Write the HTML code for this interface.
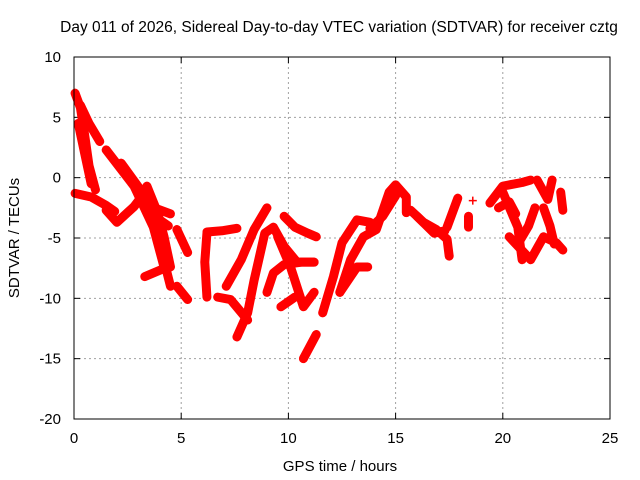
<!DOCTYPE html>
<html><head><meta charset="utf-8"><style>
body{margin:0;background:#fff}
svg{display:block;font-family:"Liberation Sans",sans-serif}
</style></head><body>
<svg id="chart" width="640" height="480" viewBox="0 0 640 480">
<text x="339" y="32" text-anchor="middle" font-size="15.5">Day 011 of 2026, Sidereal Day-to-day VTEC variation (SDTVAR) for receiver cztg</text>
<text x="340" y="471" text-anchor="middle" font-size="15">GPS time / hours</text>
<text transform="translate(19,238) rotate(-90)" text-anchor="middle" font-size="15">SDTVAR / TECUs</text>
<g id="grid"></g>
<g id="ticks"></g>
<g id="marks"></g>
<rect x="74" y="57" width="536" height="362" fill="none" stroke="#000" stroke-width="1"/>
</svg>
<script>
const xTicks=[0,5,10,15,20,25];
const yTicks=[10,5,0,-5,-10,-15,-20];
const tracks=[
[[0.05,7],[0.3,5.8],[0.5,3.5],[0.7,1],[1.0,-1]],
[[0.3,6],[0.7,4.5],[1.2,3]],
[[0.2,4.5],[0.5,2],[0.8,-0.5]],
[[0.05,-1.3],[0.8,-1.6],[1.5,-2.3],[1.9,-2.8]],
[[2.2,1.2],[3.1,-1],[3.6,-3.5],[4.1,-6.2],[4.5,-9]],
[[1.5,2.3],[2.8,-0.7],[3.7,-4.1],[4.2,-7.4]],
[[1.5,-2.7],[2.0,-3.7],[2.8,-2.4],[3.4,-1]],
[[3.4,-0.7],[3.9,-2.9],[4.2,-4.9],[4.5,-7.4]],
[[3.3,-2],[3.9,-2.6],[4.5,-3]],
[[3.6,-2.2],[4.0,-3.5],[4.4,-4]],
[[3.3,-8.2],[4.1,-7.6]],
[[4.8,-4.3],[5.3,-6.2]],
[[4.8,-9],[5.3,-10.1]],
[[6.2,-4.5],[6.9,-4.4],[7.6,-4.2]],
[[6.2,-4.6],[6.1,-7],[6.2,-9.9]],
[[7.6,-13.2],[8.1,-11.2],[8.4,-8.5],[8.9,-4.6],[9.3,-4.1],[9.8,-5.7],[10.4,-7],[11.2,-7]],
[[7.1,-9],[7.8,-6.8],[8.4,-4.3],[9.0,-2.5]],
[[6.7,-9.9],[7.3,-10.1],[8.1,-11.8]],
[[9.0,-9.5],[9.3,-7.9],[9.8,-7.2],[10.6,-7.0],[11.2,-7.0]],
[[9.5,-4.9],[10.1,-7.4],[10.7,-10.7],[11.2,-9.5]],
[[9.65,-10.7],[10.3,-9.9]],
[[9.8,-3.2],[10.3,-4.1],[10.9,-4.6],[11.3,-4.9]],
[[10.7,-15],[11.3,-13]],
[[11.6,-11.2],[12.1,-8.2],[12.5,-5.4],[13.2,-3.5],[13.8,-3.7]],
[[12.4,-9.5],[12.9,-6.8],[13.5,-4.9],[14.1,-4.3],[14.7,-1.2],[15.0,-0.6],[15.5,-1.6],[15.5,-2.9]],
[[12.4,-9.5],[13.2,-7.4],[13.7,-7.4]],
[[13.8,-4.2],[14.4,-3.2],[15.0,-1.5]],
[[15.7,-2.7],[16.3,-3.7],[16.9,-4.3],[17.4,-5.1],[17.5,-6.5]],
[[16.0,-3.2],[16.8,-4.6],[17.3,-4.4]],
[[17.4,-4.1],[17.9,-1.7]],
[[18.4,-3.2],[18.4,-4.1]],
[[18.6,-1.9]],
[[19.4,-2.1],[20.0,-0.7],[20.9,-0.4],[21.3,-0.2]],
[[20.0,-1.2],[20.7,-4.1],[20.9,-6.8]],
[[19.8,-2.5],[20.3,-2],[20.6,-3]],
[[20.3,-4.9],[21.3,-6.8],[21.9,-4.9],[22.5,-5.4],[22.8,-6]],
[[20.7,-5.5],[21.2,-4],[21.5,-2.5]],
[[21.6,-0.2],[22.1,-1.8],[22.3,-0.2]],
[[21.9,-2.5],[22.2,-4],[22.4,-5.5]],
[[22.7,-1.2],[22.8,-2.7]]
];
const X0=74,X1=610,Y0=419,Y1=57;
const xs=v=>X0+(v-0)/25*(X1-X0);
const ys=v=>Y0-(v+20)/30*(Y0-Y1);
const NS="http://www.w3.org/2000/svg";
const grid=document.getElementById('grid'),ticks=document.getElementById('ticks'),marks=document.getElementById('marks');
function mk(tag,attrs,parent){const e=document.createElementNS(NS,tag);for(const k in attrs)e.setAttribute(k,attrs[k]);parent.appendChild(e);return e;}
xTicks.forEach(t=>{const x=xs(t);
 if(t>0&&t<25){const g=mk('line',{x1:x,x2:x,y1:Y1,y2:Y0,stroke:'#a0a0a0','stroke-dasharray':'2,3'},grid);
 
 }
 mk('line',{x1:x,x2:x,y1:Y0,y2:Y0-6,stroke:'#000'},ticks);
 mk('line',{x1:x,x2:x,y1:Y1,y2:Y1+6,stroke:'#000'},ticks);
 const l=mk('text',{x:x,y:443,'text-anchor':'middle','font-size':15},ticks);l.textContent=t;
 
 
});
yTicks.forEach(t=>{const y=ys(t);
 if(t>-20&&t<10){const g=mk('line',{x1:X0,x2:X1,y1:y,y2:y,stroke:'#a0a0a0','stroke-dasharray':'2,3'},grid);
 
 }
 mk('line',{x1:X0,x2:X0+6,y1:y,y2:y,stroke:'#000'},ticks);
 mk('line',{x1:X1,x2:X1-6,y1:y,y2:y,stroke:'#000'},ticks);
 const l=mk('text',{x:61,y:y+5,'text-anchor':'end','font-size':15},ticks);l.textContent=t;
 
 
});
tracks.forEach(tr=>{
 const pts=tr.map(p=>xs(p[0])+','+ys(p[1])).join(' ');
 if(tr.length>1){const pl=mk('polyline',{points:pts,fill:'none',stroke:'#ff0000','stroke-width':9,'stroke-linejoin':'round','stroke-linecap':'round'},marks);
 
 }
 tr.forEach(p=>{const x=xs(p[0]),y=ys(p[1]);
  const m=mk('path',{d:`M${x-4},${y}H${x+4}M${x},${y-4}V${y+4}`,stroke:'#ff0000','stroke-width':1.5},marks);
  
  
 });
});
</script>
</body></html>
